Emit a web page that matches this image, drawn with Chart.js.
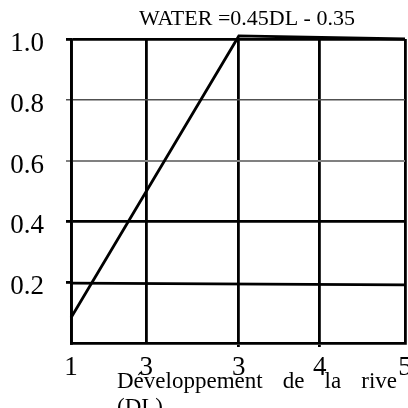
<!DOCTYPE html>
<html>
<head>
<meta charset="utf-8">
<script src="https://cdn.jsdelivr.net/npm/chart.js@4.4.1/dist/chart.umd.min.js"></script>
<style>
  html, body { margin: 0; padding: 0; background: #fff; }
  #wrap { width: 408px; height: 408px; position: relative; }
</style>
</head>
<body>
<div id="wrap"><canvas id="chart"></canvas></div>
<script>
// ── Data ───────────────────────────────────────────────────────────────────
const dlValues     = [1, 3.01, 5];
const waterValues  = [0.083, 1.01, 1.0];
const refX         = [1, 5];
const refY         = [0.197, 0.191];
const xTickValues  = [1, 1.9, 3.01, 3.98, 5];
const xTickLabels  = ['1', '3', '3', '4', '5'];
const yTickValues  = [0.2, 0.4, 0.6, 0.8, 1.0];
const yTickLabels  = ['0.2', '0.4', '0.6', '0.8', '1.0'];
const titleText    = 'WATER =0.45DL - 0.35';
const xTitleLines  = [['Développement', 'de', 'la', 'rive'], ['(DL)']];

const SERIF = "'Liberation Serif', 'Times New Roman', serif";

// grid styling per y tick
function yGridColor(v) {
  if (Math.abs(v - 0.2) < 1e-6) return 'rgba(0,0,0,0)';
  if (Math.abs(v - 0.6) < 1e-6) return '#808080';
  if (Math.abs(v - 0.8) < 1e-6) return '#505050';
  return '#000';
}
function yGridWidth(v) {
  if (Math.abs(v - 0.8) < 1e-6) return 1.5;
  if (Math.abs(v - 0.6) < 1e-6) return 2;
  return 2.8;
}

// titles drawn by hand (centered off-axis and justified like the scan)
const textPlugin = {
  id: 'scanText',
  afterDraw(chart) {
    const { ctx, chartArea } = chart;
    ctx.save();
    ctx.fillStyle = '#000';
    ctx.textBaseline = 'alphabetic';

    ctx.font = `22px ${SERIF}`;
    ctx.textAlign = 'center';
    ctx.fillText(titleText, (chartArea.left + chartArea.right) / 2 + 9, 25);

    ctx.font = `23px ${SERIF}`;
    ctx.textAlign = 'left';
    const left = chartArea.left + 46, right = chartArea.left + 326;
    const words = xTitleLines[0];
    const total = words.reduce((s, w) => s + ctx.measureText(w).width, 0);
    const gap = (right - left - total) / (words.length - 1);
    let x = left;
    words.forEach(w => { ctx.fillText(w, x, 388); x += ctx.measureText(w).width + gap; });
    ctx.fillText(xTitleLines[1].join(' '), left, 414);
    ctx.restore();
  }
};

new Chart(document.getElementById('chart').getContext('2d'), {
  type: 'scatter',
  data: {
    datasets: [
      {
        data: dlValues.map((x, i) => ({ x, y: waterValues[i] })),
        showLine: true,
        borderColor: '#000',
        borderWidth: 2.8,
        pointRadius: 0,
        clip: 6,
      },
      {
        data: refX.map((x, i) => ({ x, y: refY[i] })),
        showLine: true,
        borderColor: '#000',
        borderWidth: 2.8,
        pointRadius: 0,
        clip: 6,
      },
    ]
  },
  options: {
    responsive: true,
    maintainAspectRatio: false,
    animation: false,
    layout: { padding: { top: 39, right: 3, left: 0, bottom: 0 } },
    plugins: { legend: { display: false }, tooltip: { enabled: false }, title: { display: false } },
    scales: {
      x: {
        type: 'linear',
        min: 1, max: 5,
        afterBuildTicks: s => { s.ticks = xTickValues.map(v => ({ value: v })); },
        afterFit: s => { s.height = 65; s.paddingLeft = 0; s.paddingRight = 0; },
        grid: {
          color: '#000',
          lineWidth: 2.8,
          tickLength: 4,
          tickColor: c => (c.index === 2 || c.index === 3) ? '#000' : 'rgba(0,0,0,0)',
        },
        border: { color: '#000', width: 2.8 },
        ticks: {
          autoSkip: false,
          maxRotation: 0,
          padding: 5,
          color: '#000',
          font: { family: SERIF, size: 27 },
          callback: (v, i) => xTickLabels[i],
        },
      },
      y: {
        type: 'linear',
        min: 0, max: 1,
        afterBuildTicks: s => { s.ticks = yTickValues.map(v => ({ value: v })); },
        afterFit: s => { s.width = 71; },
        grid: {
          color: c => yGridColor(c.tick.value),
          lineWidth: c => yGridWidth(c.tick.value),
          tickLength: 5,
          tickColor: c => Math.abs(c.tick.value - 0.2) < 1e-6 ? '#000' : yGridColor(c.tick.value),
        },
        border: { color: '#000', width: 2.8 },
        ticks: {
          padding: 22,
          labelOffset: 5,
          color: '#000',
          font: { family: SERIF, size: 27 },
          callback: (v, i) => yTickLabels[i],
        },
      },
    }
  },
  plugins: [textPlugin]
});
</script>
</body>
</html>
